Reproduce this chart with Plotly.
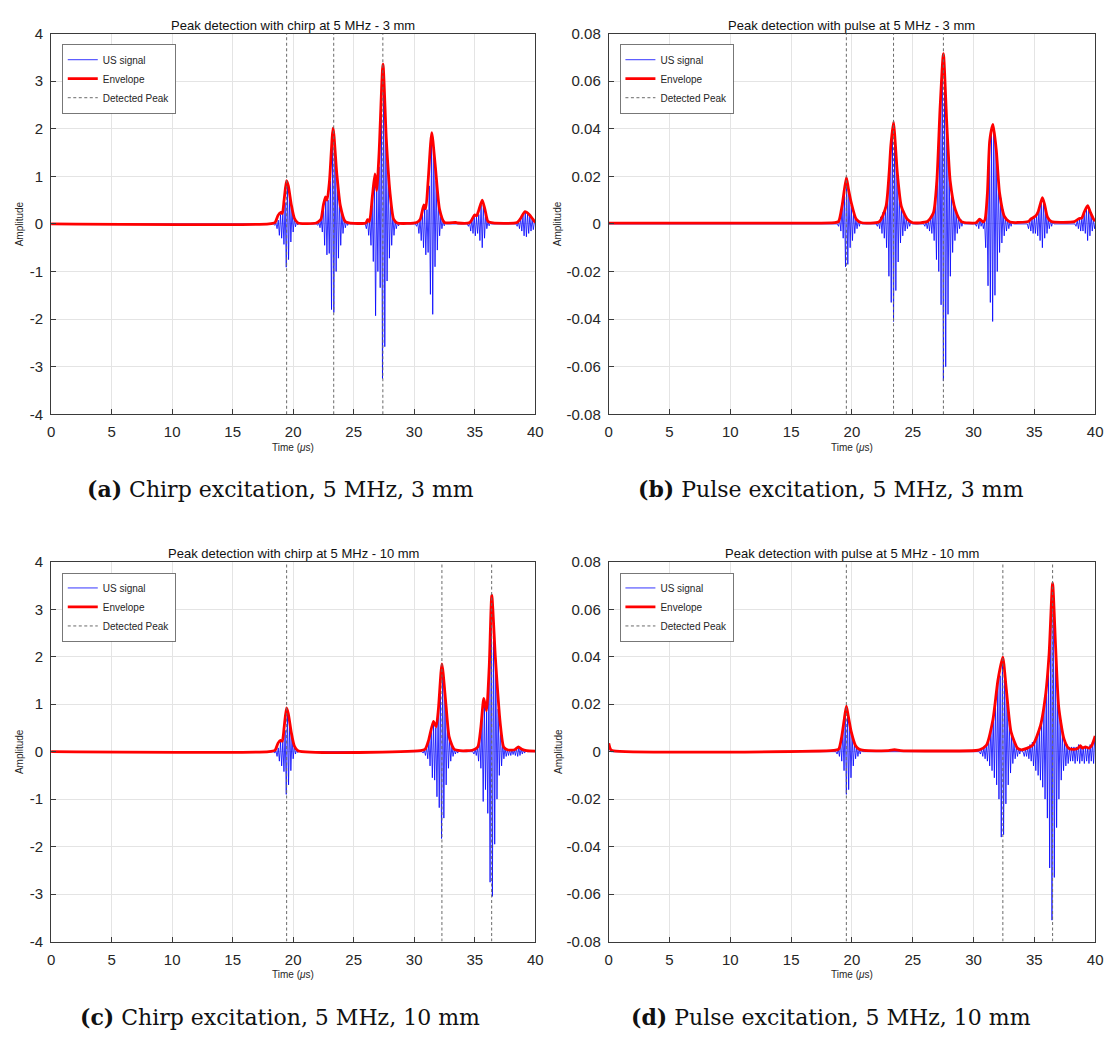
import plotly.graph_objects as go

# ---------------- data ----------------
x_ticks = [0, 5, 10, 15, 20, 25, 30, 35, 40]
x_ticklabels = ["0", "5", "10", "15", "20", "25", "30", "35", "40"]
chirp_yticks = [-4, -3, -2, -1, 0, 1, 2, 3, 4]
chirp_yticklabels = ["-4", "-3", "-2", "-1", "0", "1", "2", "3", "4"]
pulse_yticks = [-0.08, -0.06, -0.04, -0.02, 0, 0.02, 0.04, 0.06, 0.08]
pulse_yticklabels = ["-0.08", "-0.06", "-0.04", "-0.02", "0", "0.02", "0.04", "0.06", "0.08"]

titles = ["Peak detection with chirp at 5 MHz - 3 mm",
          "Peak detection with pulse at 5 MHz - 3 mm",
          "Peak detection with chirp at 5 MHz - 10 mm",
          "Peak detection with pulse at 5 MHz - 10 mm"]
captions = ["Chirp excitation, 5 MHz, 3 mm", "Pulse excitation, 5 MHz, 3 mm",
            "Chirp excitation, 5 MHz, 10 mm", "Pulse excitation, 5 MHz, 10 mm"]
caption_tags = ["(a)", "(b)", "(c)", "(d)"]

DT = 0.19  # carrier period of the echoes (µs): one negative and one positive lobe per cycle

# ---- (a) chirp, 3 mm ----
a_burst_t0 = [18.48, 22.03, 26.05, 30.2, 34.48, 38.51]
a_burst_neg = [
    [-0.03, -0.1, -0.24, -0.3, -0.43, -0.91, -0.75, -0.38, -0.17, -0.06, -0.02],
    [-0.03, -0.08, -0.17, -0.45, -0.65, -0.62, -1.8, -1.86, -1.0, -0.72, -0.45, -0.2, -0.08, -0.03],
    [-0.1, -0.24, -0.45, -0.79, -1.93, -1.0, -1.34, -3.25, -2.58, -1.2, -0.72, -0.45, -0.24, -0.1, -0.04],
    [-0.05, -0.2, -0.35, -0.5, -0.65, -0.6, -1.48, -1.9, -0.9, -0.55, -0.25, -0.1, -0.04],
    [-0.05, -0.15, -0.2, -0.25, -0.2, -0.35, -0.5, -0.3, -0.1, -0.04],
    [-0.05, -0.1, -0.15, -0.25, -0.27, -0.2, -0.15, -0.12],
]
a_burst_pos = [
    [0.02, 0.08, 0.2, 0.22, 0.45, 0.85, 0.6, 0.3, 0.12, 0.04, 0.02],
    [0.03, 0.1, 0.38, 0.55, 0.5, 0.9, 1.85, 1.5, 0.9, 0.5, 0.25, 0.1, 0.04, 0.02],
    [0.08, 0.1, 0.5, 0.95, 0.7, 1.2, 2.5, 3.0, 1.85, 1.1, 0.5, 0.2, 0.06, 0.03, 0.02],
    [0.03, 0.1, 0.25, 0.35, 0.3, 0.8, 1.85, 1.4, 0.9, 0.45, 0.15, 0.05, 0.02],
    [0.03, 0.1, 0.17, 0.15, 0.2, 0.4, 0.4, 0.2, 0.05, 0.02],
    [0.05, 0.12, 0.18, 0.25, 0.22, 0.17, 0.1, 0.05],
]
a_env_t = [0, 18.0, 18.5, 18.75, 18.95, 19.1, 19.25, 19.45, 19.6, 19.85, 20.1, 20.4, 21.9, 22.1, 22.3,
           22.5, 22.67, 22.8, 23.0, 23.3, 23.6, 23.9, 24.3, 24.6, 26.0, 26.15, 26.3, 26.55, 26.76, 26.9,
           27.1, 27.42, 27.7, 28.0, 28.3, 28.6, 30.2, 30.5, 30.8, 30.95, 31.15, 31.45, 31.75, 32.1, 32.5,
           33.4, 33.6, 34.6, 35.0, 35.15, 35.35, 35.62, 35.85, 36.1, 36.5, 38.5, 38.8, 39.15, 39.5, 39.8, 40]
a_env_v = [0, 0.0, 0.03, 0.18, 0.24, 0.22, 0.5, 0.91, 0.8, 0.4, 0.12, 0.02, 0.02, 0.05, 0.1,
           0.4, 0.57, 0.5, 0.9, 2.02, 1.07, 0.38, 0.05, 0.02, 0.02, 0.09, 0.05, 0.6, 1.05, 0.7,
           1.5, 3.36, 1.76, 0.66, 0.1, 0.02, 0.03, 0.1, 0.4, 0.32, 0.9, 1.92, 1.2, 0.3, 0.03,
           0.03, 0.02, 0.03, 0.19, 0.17, 0.3, 0.5, 0.3, 0.05, 0.02, 0.03, 0.12, 0.26, 0.2, 0.1, 0.03]
a_peaks = [19.46, 23.35, 27.41]

# ---- (b) pulse, 3 mm ----
b_burst_t0 = [18.9, 22.09, 26.0, 30.24, 34.52, 38.43]
b_burst_neg = [
    [-0.001, -0.003, -0.006, -0.018, -0.017, -0.01, -0.007, -0.004, -0.002, -0.001],
    [-0.001, -0.002, -0.004, -0.006, -0.01, -0.022, -0.033, -0.041, -0.028, -0.016, -0.008, -0.005,
     -0.003, -0.002, -0.001],
    [-0.001, -0.002, -0.003, -0.004, -0.007, -0.015, -0.02, -0.034, -0.066, -0.06, -0.038, -0.022,
     -0.012, -0.007, -0.004, -0.002, -0.001],
    [-0.001, -0.002, -0.001, -0.002, -0.01, -0.026, -0.033, -0.041, -0.03, -0.02, -0.012, -0.008,
     -0.005, -0.003, -0.002, -0.001],
    [-0.002, -0.003, -0.004, -0.004, -0.005, -0.007, -0.01, -0.006, -0.004, -0.002, -0.001],
    [-0.001, -0.002, -0.003, -0.003, -0.004, -0.007, -0.005, -0.003, -0.002],
]
b_burst_pos = [
    [0.002, 0.007, 0.013, 0.019, 0.014, 0.008, 0.005, 0.002, 0.0015, 0.001],
    [0.001, 0.003, 0.005, 0.007, 0.014, 0.027, 0.038, 0.036, 0.023, 0.013, 0.007, 0.004, 0.0025,
     0.0015, 0.001],
    [0.001, 0.0015, 0.003, 0.0045, 0.011, 0.027, 0.046, 0.063, 0.06, 0.04, 0.024, 0.015, 0.009,
     0.005, 0.003, 0.002, 0.001],
    [0.0015, 0.002, 0.001, 0.001, 0.01, 0.029, 0.038, 0.04, 0.031, 0.019, 0.011, 0.006, 0.003,
     0.002, 0.001, 0.001],
    [0.0015, 0.002, 0.003, 0.004, 0.006, 0.009, 0.0095, 0.006, 0.0025, 0.0015, 0.001],
    [0.0015, 0.002, 0.0025, 0.0045, 0.0065, 0.006, 0.004, 0.002, 0.001],
]
b_env_t = [0, 15.0, 18.6, 18.9, 19.2, 19.54, 19.7, 19.95, 20.35, 20.8, 22.25, 22.8, 23.05, 23.2, 23.42,
           23.55, 23.74, 24.06, 24.55, 25.0, 26.2, 26.7, 26.98, 27.25, 27.52, 27.8, 28.08, 28.5, 29.0,
           30.2, 30.5, 30.8, 30.95, 31.14, 31.33, 31.6, 31.87, 32.14, 32.55, 33.0, 34.5, 34.7, 35.1,
           35.3, 35.66, 35.85, 36.07, 36.4, 38.3, 38.65, 38.9, 39.1, 39.38, 39.6, 39.87, 40]
b_env_v = [0.0003, 0.0003, 0.0005, 0.001, 0.008, 0.0195, 0.015, 0.0088, 0.002, 0.0005, 0.001, 0.0074,
           0.021, 0.033, 0.0429, 0.035, 0.021, 0.0074, 0.002, 0.0005, 0.001, 0.0047, 0.018, 0.049,
           0.0716, 0.042, 0.018, 0.006, 0.001, 0.0005, 0.002, 0.0008, 0.002, 0.013, 0.035, 0.0418,
           0.031, 0.013, 0.003, 0.0008, 0.001, 0.002, 0.0033, 0.005, 0.011, 0.008, 0.003, 0.001, 0.001,
           0.0022, 0.0025, 0.005, 0.0077, 0.005, 0.002, 0.0012]
b_peaks = [19.54, 23.42, 27.52]

# ---- (c) chirp, 10 mm ----
c_burst_t0 = [18.48, 30.74, 34.94]
c_burst_neg = [
    [-0.03, -0.1, -0.2, -0.3, -0.42, -0.9, -0.7, -0.4, -0.15, -0.05, -0.02],
    [-0.03, -0.08, -0.15, -0.3, -0.55, -0.6, -0.95, -1.18, -1.83, -1.4, -0.7, -0.35, -0.2, -0.1,
     -0.05, -0.03],
    [-0.05, -0.08, -0.2, -0.35, -1.05, -0.8, -1.3, -2.75, -3.05, -1.95, -1.0, -0.5, -0.3, -0.15,
     -0.1, -0.08, -0.08, -0.06, -0.08, -0.1, -0.08, -0.05, -0.03],
]
c_burst_pos = [
    [0.02, 0.08, 0.2, 0.22, 0.45, 0.85, 0.6, 0.3, 0.12, 0.04, 0.02],
    [0.03, 0.1, 0.22, 0.45, 0.6, 0.5, 0.85, 1.4, 1.6, 1.1, 0.6, 0.25, 0.12, 0.05, 0.03, 0.02],
    [0.05, 0.1, 0.3, 0.75, 1.05, 0.85, 1.6, 2.9, 2.5, 1.8, 0.9, 0.5, 0.2, 0.08, 0.04, 0.04, 0.04,
     0.04, 0.07, 0.09, 0.06, 0.04, 0.02],
]
c_env_t = [0, 18.0, 18.5, 18.75, 18.95, 19.1, 19.25, 19.45, 19.6, 19.85, 20.1, 20.4, 30.5, 30.9, 31.2,
           31.59, 31.81, 32.0, 32.29, 32.62, 32.89, 33.3, 33.8, 34.8, 35.25, 35.5, 35.75, 35.97, 36.2,
           36.41, 36.71, 37.11, 37.39, 37.7, 38.3, 38.61, 38.9, 39.3, 40]
c_env_v = [0, 0.0, 0.03, 0.18, 0.24, 0.22, 0.5, 0.92, 0.8, 0.4, 0.12, 0.02, 0.02, 0.05, 0.25,
           0.64, 0.52, 0.9, 1.85, 1.0, 0.31, 0.05, 0.02, 0.03, 0.1, 0.5, 1.12, 0.86, 1.8,
           3.3, 1.97, 0.59, 0.1, 0.04, 0.04, 0.1, 0.05, 0.02, 0.01]
c_peaks = [19.46, 32.29, 36.4]

# ---- (d) pulse, 10 mm ----
d_burst_t0 = [0.0, 18.78, 30.57, 34.17]
d_burst_neg = [
    [0.0035],
    [-0.001, -0.002, -0.004, -0.008, -0.018, -0.016, -0.011, -0.006, -0.003, -0.002, -0.001],
    [-0.001, -0.002, -0.003, -0.004, -0.006, -0.008, -0.011, -0.014, -0.02, -0.036, -0.035, -0.022,
     -0.014, -0.009, -0.005, -0.003, -0.002, -0.001],
    [-0.002, -0.002, -0.003, -0.004, -0.006, -0.008, -0.01, -0.012, -0.015, -0.02, -0.028, -0.049,
     -0.071, -0.053, -0.032, -0.02, -0.012, -0.008, -0.006, -0.005, -0.004, -0.004, -0.005, -0.004,
     -0.005, -0.004, -0.005, -0.004, -0.005, -0.004, -0.005],
]
d_burst_pos = [
    [0.001],
    [0.001, 0.004, 0.009, 0.015, 0.0165, 0.011, 0.007, 0.0035, 0.002, 0.001, 0.0008],
    [0.001, 0.002, 0.0027, 0.006, 0.01, 0.014, 0.021, 0.029, 0.032, 0.038, 0.031, 0.023, 0.012,
     0.007, 0.004, 0.002, 0.0013, 0.001],
    [0.001, 0.002, 0.003, 0.004, 0.005, 0.007, 0.009, 0.013, 0.018, 0.025, 0.038, 0.055, 0.066,
     0.045, 0.025, 0.014, 0.008, 0.004, 0.003, 0.002, 0.002, 0.002, 0.002, 0.003, 0.002, 0.002,
     0.002, 0.002, 0.003, 0.004, 0.006],
]
d_env_t = [0, 0.15, 0.4, 18.5, 18.9, 19.13, 19.35, 19.54, 19.7, 19.95, 20.3, 20.6, 21.0, 23.0, 23.5,
           24.0, 30.2, 30.5, 31.05, 31.6, 32.0, 32.4, 32.68, 33.09, 33.63, 34.0, 34.85, 35.5, 35.94,
           36.21, 36.5, 36.75, 37.0, 37.43, 37.83, 38.3, 38.6, 38.78, 38.95, 39.2, 39.5, 39.73, 39.9, 40]
d_env_v = [0.0035, 0.001, 0.0003, 0.0005, 0.001, 0.0055, 0.013, 0.0192, 0.015, 0.0082, 0.0025, 0.001,
           0.0005, 0.0004, 0.0008, 0.0004, 0.0005, 0.0008, 0.0027, 0.0137, 0.03, 0.0398, 0.027, 0.0082,
           0.0014, 0.0008, 0.0027, 0.011, 0.0247, 0.041, 0.071, 0.044, 0.019, 0.0055, 0.0014, 0.001,
           0.0015, 0.0025, 0.0015, 0.002, 0.0015, 0.0027, 0.005, 0.0066]
d_peaks = [19.54, 32.41, 36.5]

# ---------------- layout constants (pixels) ----------------
W, H = 1118, 1041
LEFT_X = (47.6, 537.0)
RIGHT_X = (611.3, 1103.0)
TOP_Y = (25.0, 412.0)
BOT_Y = (562.0, 948.0)


def fx(px):
    return px / W


def fy(py):
    return 1 - py / H


def build_signal(t0s, negs, poss, t_end=40.0):
    t, v = [0.0], [0.0]
    for t0, N, P in zip(t0s, negs, poss):
        if t0 - 0.1 > t[-1]:
            t.append(t0 - 0.1)
            v.append(0.0)
        for k, (n, p) in enumerate(zip(N, P)):
            t.append(t0 + k * DT)
            v.append(n)
            t.append(t0 + k * DT + DT / 2)
            v.append(p)
        t.append(t0 + len(N) * DT)
        v.append(0.0)
    if t[-1] < t_end:
        t.append(t_end)
        v.append(0.0)
    return t, v


panels = [
    dict(t0=a_burst_t0, neg=a_burst_neg, pos=a_burst_pos, et=a_env_t, ev=a_env_v, pk=a_peaks,
         yt=chirp_yticks, yl=chirp_yticklabels, xd=LEFT_X, yd=TOP_Y),
    dict(t0=b_burst_t0, neg=b_burst_neg, pos=b_burst_pos, et=b_env_t, ev=b_env_v, pk=b_peaks,
         yt=pulse_yticks, yl=pulse_yticklabels, xd=RIGHT_X, yd=TOP_Y),
    dict(t0=c_burst_t0, neg=c_burst_neg, pos=c_burst_pos, et=c_env_t, ev=c_env_v, pk=c_peaks,
         yt=chirp_yticks, yl=chirp_yticklabels, xd=LEFT_X, yd=BOT_Y),
    dict(t0=d_burst_t0, neg=d_burst_neg, pos=d_burst_pos, et=d_env_t, ev=d_env_v, pk=d_peaks,
         yt=pulse_yticks, yl=pulse_yticklabels, xd=RIGHT_X, yd=BOT_Y),
]

AX_COLOR = "#3a3a3a"
GRID_COLOR = "#e4e4e4"
TXT = "#262626"
SANS = "Liberation Sans, Arial, sans-serif"
SERIF = "DejaVu Serif, serif"

fig = go.Figure()
layout = dict(width=W, height=H, margin=dict(l=0, r=0, t=0, b=0),
              paper_bgcolor="white", plot_bgcolor="white", showlegend=True,
              font=dict(family=SANS, color=TXT))
annotations = []

for i, p in enumerate(panels, start=1):
    sfx = "" if i == 1 else str(i)
    xa, ya = "x" + sfx, "y" + sfx
    leg = "legend" + sfx
    ts, vs = build_signal(p["t0"], p["neg"], p["pos"])
    fig.add_trace(go.Scatter(x=ts, y=vs, mode="lines", name="US signal",
                             line=dict(color="#0000ff", width=0.8),
                             xaxis=xa, yaxis=ya, legend=leg, hoverinfo="skip"))
    fig.add_trace(go.Scatter(x=p["et"], y=p["ev"], mode="lines", name="Envelope",
                             line=dict(color="#ff0000", width=2.8, shape="spline", smoothing=0.6),
                             xaxis=xa, yaxis=ya, legend=leg, hoverinfo="skip"))
    ylo, yhi = p["yt"][0], p["yt"][-1]
    px_, py_ = [], []
    for t in p["pk"]:
        px_ += [t, t, None]
        py_ += [ylo, yhi, None]
    fig.add_trace(go.Scatter(x=px_, y=py_, mode="lines", name="Detected Peak",
                             line=dict(color="#6a6a6a", width=1, dash="3px,2.5px"),
                             xaxis=xa, yaxis=ya, legend=leg, hoverinfo="skip"))

    x0, x1 = p["xd"]
    y0, y1 = p["yd"]
    common = dict(showline=True, linecolor=AX_COLOR, linewidth=1, mirror=True,
                  showgrid=True, gridcolor=GRID_COLOR, gridwidth=1, zeroline=False,
                  ticks="inside", ticklen=5, tickwidth=1, tickcolor=AX_COLOR,
                  tickfont=dict(family=SANS, size=15, color=TXT), ticklabelstandoff=4)
    layout["xaxis" + sfx] = dict(common, domain=[fx(x0), fx(x1)], anchor=ya,
                                 range=[x_ticks[0], x_ticks[-1]], tickvals=x_ticks,
                                 ticktext=x_ticklabels)
    layout["yaxis" + sfx] = dict(common, domain=[fy(y1), fy(y0)], anchor=xa,
                                 range=[ylo, yhi], tickvals=p["yt"], ticktext=p["yl"])
    layout[leg] = dict(x=fx(x0 + 11), y=fy(y0 + 11), xanchor="left", yanchor="top",
                       bgcolor="white", bordercolor="#555555", borderwidth=0.8,
                       font=dict(family=SANS, size=10, color=TXT), tracegroupgap=0)

    cx = (x0 + x1) / 2
    annotations.append(dict(text=titles[i - 1], x=fx(cx), y=fy(y0 - 8.5), xref="paper", yref="paper",
                            xanchor="center", yanchor="middle", showarrow=False,
                            font=dict(family=SANS, size=13, color="#111111")))
    annotations.append(dict(text="Time (<i>μ</i>s)", x=fx(cx), y=fy(y1 + 34), xref="paper",
                            yref="paper", xanchor="center", yanchor="middle", showarrow=False,
                            font=dict(family=SANS, size=10, color=TXT)))
    ylab_x = x0 - (32 if x0 < 300 else 51)
    annotations.append(dict(text="Amplitude", x=fx(ylab_x), y=fy((y0 + y1) / 2), xref="paper",
                            yref="paper", xanchor="center", yanchor="middle", showarrow=False,
                            textangle=-90, font=dict(family=SANS, size=10, color=TXT)))
    cap_cx = 279 if x0 < 300 else 836
    cap_y = 488 if y0 < 300 else 1025
    annotations.append(dict(text="<b>" + caption_tags[i - 1] + "</b> " + captions[i - 1],
                            x=fx(cap_cx), y=fy(cap_y), xref="paper", yref="paper",
                            xanchor="center", yanchor="middle", showarrow=False,
                            font=dict(family=SERIF, size=22, color="#111111")))

layout["annotations"] = annotations
fig.update_layout(**layout)
fig.write_html("out.html")
